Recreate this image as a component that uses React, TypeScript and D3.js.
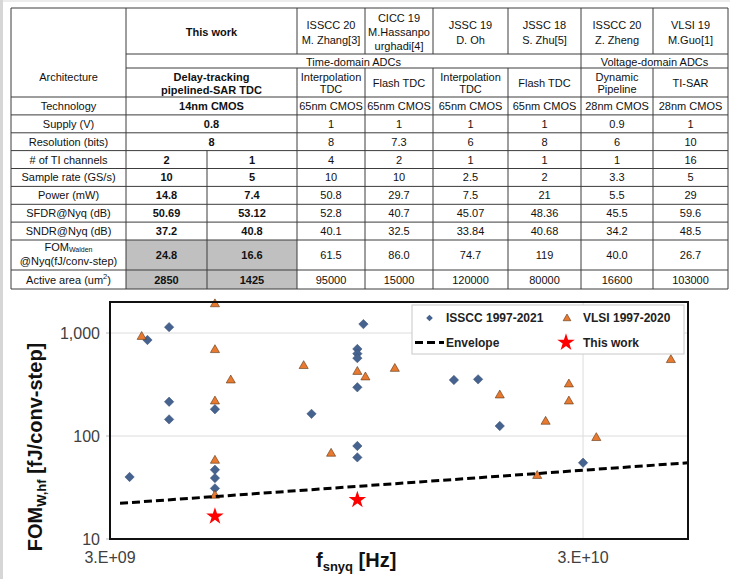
import React from "react";
import * as d3 from "d3";

const W = 730;
const H = 579;
const FONT = "Arial, 'Liberation Sans', sans-serif";

// ---- table data ----
const rowLabels = ["Technology", "Supply (V)", "Resolution (bits)", "# of TI channels", "Sample rate (GS/s)", "Power (mW)", "SFDR@Nyq (dB)", "SNDR@Nyq (dB)"];
const sources = [["ISSCC 20", "M. Zhang[3]"], ["CICC 19", "M.Hassanpo", "urghadi[4]"], ["JSSC 19", "D. Oh"], ["JSSC 18", "S. Zhu[5]"], ["ISSCC 20", "Z. Zheng"], ["VLSI 19", "M.Guo[1]"]];
const architectures = [["Interpolation", "TDC"], ["Flash TDC"], ["Interpolation", "TDC"], ["Flash TDC"], ["Dynamic", "Pipeline"], ["TI-SAR"]];
const technology = ["65nm CMOS", "65nm CMOS", "65nm CMOS", "65nm CMOS", "28nm CMOS", "28nm CMOS"];
const supply = ["1", "1", "1", "1", "0.9", "1"];
const resolution = ["8", "7.3", "6", "8", "6", "10"];
const tiChannels = ["4", "2", "1", "1", "1", "16"];
const sampleRate = ["10", "10", "2.5", "2", "3.3", "5"];
const power = ["50.8", "29.7", "7.5", "21", "5.5", "29"];
const sfdr = ["52.8", "40.7", "45.07", "48.36", "45.5", "59.6"];
const sndr = ["40.1", "32.5", "33.84", "40.68", "34.2", "48.5"];
const fomWalden = ["61.5", "86.0", "74.7", "119", "40.0", "26.7"];
const area = ["95000", "15000", "120000", "80000", "16600", "103000"];

const twArch = ["Delay-tracking", "pipelined-SAR TDC"];
const twMerged = ["14nm CMOS", "0.8", "8"];
const twTi = ["2", "1"];
const twRate = ["10", "5"];
const twPower = ["14.8", "7.4"];
const twSfdr = ["50.69", "53.12"];
const twSndr = ["37.2", "40.8"];
const twFom = ["24.8", "16.6"];
const twArea = ["2850", "1425"];

// ---- chart data ----
const isscFreq = [3.3e9, 3.6e9, 4.0e9, 4.0e9, 4.0e9, 5.0e9, 5.0e9, 5.0e9, 5.0e9, 8.0e9, 1.0e10, 1.0e10, 1.0e10, 1.0e10, 1.0e10, 1.0e10, 1.03e10, 1.6e10, 1.8e10, 2.0e10, 3.0e10];
const isscFom = [40, 855, 1140, 215, 145, 182, 47, 39, 31, 164, 700, 630, 570, 297, 80, 62, 1220, 350, 355, 125, 55];
const vlsiFreq = [3.5e9, 5e9, 5e9, 5e9, 5e9, 5e9, 5.4e9, 7.7e9, 8.8e9, 1.0e10, 1.04e10, 1.2e10, 2.0e10, 2.4e10, 2.5e10, 2.8e10, 2.8e10, 3.2e10, 4.6e10];
const vlsiFom = [940, 1950, 700, 222, 59, 27, 355, 490, 69, 430, 380, 460, 254, 42, 141, 325, 222, 98, 560];
const envFreq = [3.15e9, 5e10];
const envFom = [22.2, 55];
const twFreq = [5e9, 1e10];
const twFomPts = [16.6, 24];
const yTicks = [10, 100, 1000];
const xTicks = [3e9, 3e10];

// table geometry
const colX = [11, 126, 297, 365, 433, 508, 581, 653, 728];
const twSplit = 207;
const rowY = [8, 54, 68, 97, 114.9, 132.8, 150.6, 168.5, 186.4, 204.3, 222.1, 240, 270, 289];
const FS = 11;

const Lines = ({ lines, x, cy, lh, bold = false, size = FS }) => (
  <text x={x} textAnchor="middle" fontSize={size} fontWeight={bold ? "bold" : "normal"} fill="#111">
    {lines.map((l, i) => (
      <tspan key={i} x={x} y={cy + (i - (lines.length - 1) / 2) * lh} dominantBaseline="central">{l}</tspan>
    ))}
  </text>
);

const Table = () => {
  const mid = (a, b) => (a + b) / 2;
  const srcCx = sources.map((_, i) => mid(colX[i + 2], colX[i + 3]));
  const twCx = mid(colX[1], colX[2]);
  const tw1 = mid(colX[1], twSplit);
  const tw2 = mid(twSplit, colX[2]);
  const merged = [technology, supply, resolution];
  const split = [tiChannels, sampleRate, power, sfdr, sndr];
  const splitTw = [twTi, twRate, twPower, twSfdr, twSndr];
  const stroke = "#3c3c3c";
  const hl = (y, x1, x2, k) => <line key={k} x1={x1} x2={x2} y1={y} y2={y} stroke={stroke} strokeWidth={1} />;
  const vl = (x, y1, y2, k) => <line key={k} x1={x} x2={x} y1={y1} y2={y2} stroke={stroke} strokeWidth={1} />;

  return (
    <g fontFamily={FONT}>
      {/* shaded cells */}
      <rect x={colX[1]} y={rowY[11]} width={colX[2] - colX[1]} height={rowY[13] - rowY[11]} fill="#c0c0c0" />
      {/* horizontal lines */}
      {hl(rowY[0], colX[0], colX[8], "h0")}
      {hl(rowY[1], colX[1], colX[8], "h1")}
      {hl(rowY[2], colX[1], colX[8], "h2")}
      {rowY.slice(3).map((y, i) => hl(y, colX[0], colX[8], "hr" + i))}
      {/* vertical lines */}
      {vl(colX[0], rowY[0], rowY[13], "v0")}
      {vl(colX[1], rowY[0], rowY[13], "v1")}
      {vl(colX[2], rowY[0], rowY[1], "v2a")}
      {vl(colX[2], rowY[2], rowY[13], "v2b")}
      {[3, 4, 5].map((c) => [vl(colX[c], rowY[0], rowY[1], "va" + c), vl(colX[c], rowY[2], rowY[13], "vb" + c)])}
      {vl(colX[6], rowY[0], rowY[13], "v6")}
      {vl(colX[7], rowY[0], rowY[1], "v7a")}
      {vl(colX[7], rowY[2], rowY[13], "v7b")}
      {vl(colX[8], rowY[0], rowY[13], "v8")}
      {vl(twSplit, rowY[6], rowY[13], "vs")}

      {/* header */}
      <Lines lines={["This work"]} x={twCx} cy={32} lh={15} bold />
      {sources.map((s, i) => <Lines key={i} lines={s} x={srcCx[i]} cy={32} lh={s.length > 2 ? 14 : 15} />)}
      <Lines lines={["Time-domain ADCs"]} x={mid(colX[1], colX[6])} cy={61.5} lh={13} />
      <Lines lines={["Voltage-domain ADCs"]} x={mid(colX[6], colX[8])} cy={61.5} lh={13} />
      <Lines lines={["Architecture"]} x={mid(colX[0], colX[1])} cy={77} lh={13} />
      <Lines lines={twArch} x={twCx} cy={83} lh={13} bold />
      {architectures.map((a, i) => <Lines key={i} lines={a} x={srcCx[i]} cy={83} lh={12.5} />)}

      {/* merged rows */}
      {merged.map((vals, r) => {
        const cy = mid(rowY[3 + r], rowY[4 + r]);
        return (
          <g key={"m" + r}>
            <Lines lines={[rowLabels[r]]} x={mid(colX[0], colX[1])} cy={cy} lh={13} />
            <Lines lines={[twMerged[r]]} x={twCx} cy={cy} lh={13} bold />
            {vals.map((v, i) => <Lines key={i} lines={[v]} x={srcCx[i]} cy={cy} lh={13} />)}
          </g>
        );
      })}
      {/* split rows */}
      {split.map((vals, r) => {
        const cy = mid(rowY[6 + r], rowY[7 + r]);
        return (
          <g key={"s" + r}>
            <Lines lines={[rowLabels[3 + r]]} x={mid(colX[0], colX[1])} cy={cy} lh={13} />
            <Lines lines={[splitTw[r][0]]} x={tw1} cy={cy} lh={13} bold />
            <Lines lines={[splitTw[r][1]]} x={tw2} cy={cy} lh={13} bold />
            {vals.map((v, i) => <Lines key={i} lines={[v]} x={srcCx[i]} cy={cy} lh={13} />)}
          </g>
        );
      })}
      {/* FOM row */}
      <text x={mid(colX[0], colX[1])} y={247} textAnchor="middle" dominantBaseline="central" fontSize={FS} fill="#111">
        FOM<tspan fontSize={7} dy={2}>Walden</tspan>
      </text>
      <Lines lines={["@Nyq(fJ/conv-step)"]} x={mid(colX[0], colX[1])} cy={261} lh={13} />
      <Lines lines={[twFom[0]]} x={tw1} cy={255} lh={13} bold />
      <Lines lines={[twFom[1]]} x={tw2} cy={255} lh={13} bold />
      {fomWalden.map((v, i) => <Lines key={i} lines={[v]} x={srcCx[i]} cy={255} lh={13} />)}
      {/* area row */}
      <text x={mid(colX[0], colX[1])} y={280} textAnchor="middle" dominantBaseline="central" fontSize={FS} fill="#111">
        Active area (um<tspan fontSize={7.5} dy={-4}>2</tspan><tspan dy={4}>)</tspan>
      </text>
      <Lines lines={[twArea[0]]} x={tw1} cy={280} lh={13} bold />
      <Lines lines={[twArea[1]]} x={tw2} cy={280} lh={13} bold />
      {area.map((v, i) => <Lines key={i} lines={[v]} x={srcCx[i]} cy={280} lh={13} />)}
    </g>
  );
};

const plot = { left: 110, right: 688, top: 302, bottom: 539 };

const Chart = () => {
  const x = d3.scaleLog().domain([3e9, 5e10]).range([plot.left, plot.right]);
  const y = d3.scaleLog().domain([10, 2000]).range([plot.bottom, plot.top]);
  const diamond = d3.symbol(d3.symbolSquare, 44)();
  const diamondSm = d3.symbol(d3.symbolSquare, 22)();
  const tri = d3.symbol(d3.symbolTriangle, 36)();
  const triSm = d3.symbol(d3.symbolTriangle, 26)();
  const star = d3.symbol(d3.symbolStar, 95)();
  const env = d3.line<number>().x((d, i) => x(envFreq[i])).y((d) => y(d))(envFom);
  const blue = "#46628f";
  const orange = "#e8792e";

  return (
    <g fontFamily={FONT}>
      {/* grid */}
      {[100, 1000].map((t) => (
        <line key={t} x1={plot.left} x2={plot.right} y1={y(t)} y2={y(t)} stroke="#dcdcdc" strokeWidth={1} />
      ))}
      <line x1={x(3e10)} x2={x(3e10)} y1={plot.top} y2={plot.bottom} stroke="#dcdcdc" strokeWidth={1} />
      {yTicks.map((t) => (
        <line key={"tk" + t} x1={plot.left - 4} x2={plot.left} y1={y(t)} y2={y(t)} stroke="#bbb" />
      ))}

      {/* ISSCC */}
      {isscFreq.map((f, i) => (
        <path key={"d" + i} d={diamond} transform={`translate(${x(f)},${y(isscFom[i])}) rotate(45)`} fill={blue} stroke="#3a5275" strokeWidth={0.5} />
      ))}
      {/* VLSI */}
      {vlsiFreq.map((f, i) => (
        <path key={"t" + i} d={tri} transform={`translate(${x(f)},${y(vlsiFom[i]) + 1})`} fill={orange} stroke="#5a3518" strokeWidth={0.6} />
      ))}
      {/* envelope */}
      <path d={env} fill="none" stroke="#000" strokeWidth={3} strokeDasharray="8,4" />
      {/* this work */}
      {twFreq.map((f, i) => (
        <path key={"s" + i} d={star} transform={`translate(${x(f)},${y(twFomPts[i])})`} fill="#ff0000" />
      ))}

      <rect x={plot.left} y={plot.top} width={plot.right - plot.left} height={plot.bottom - plot.top} fill="none" stroke="#111" strokeWidth={2} />

      {/* tick labels */}
      {yTicks.map((t) => (
        <text key={"yl" + t} x={plot.left - 10} y={y(t)} textAnchor="end" dominantBaseline="central" fontSize={16} fill="#404040">
          {d3.format(",")(t)}
        </text>
      ))}
      {xTicks.map((t) => (
        <text key={"xl" + t} x={x(t)} y={563} textAnchor="middle" fontSize={16} fill="#404040">
          {t === 3e9 ? "3.E+09" : "3.E+10"}
        </text>
      ))}

      {/* axis titles */}
      <text transform="translate(41.5,447) rotate(-90)" textAnchor="middle" fontSize={20} fontWeight="bold" fill="#111">
        FOM<tspan fontSize={13} dy={4}>W,hf</tspan><tspan dy={-4}> [fJ/conv-step]</tspan>
      </text>
      <text x={316} y={567} fontSize={20} fontWeight="bold" fill="#111">
        f<tspan fontSize={13} dy={4}>snyq</tspan><tspan dy={-4}> [Hz]</tspan>
      </text>

      {/* legend */}
      <rect x={412} y={305} width={272} height={49} fill="#fff" stroke="#c8c8c8" />
      <path d={diamondSm} transform="translate(429.5,318) rotate(45)" fill={blue} />
      <text x={446} y={322} fontSize={12} fontWeight="bold" fill="#222">ISSCC 1997-2021</text>
      <path d={triSm} transform="translate(567,318.5)" fill={orange} stroke="#5a3518" strokeWidth={0.6} />
      <text x={583} y={322} fontSize={12} fontWeight="bold" fill="#222">VLSI 1997-2020</text>
      <line x1={415} x2={444} y1={342.5} y2={342.5} stroke="#000" strokeWidth={3} strokeDasharray="8,4" />
      <text x={446} y={346.5} fontSize={12} fontWeight="bold" fill="#222">Envelope</text>
      <path d={star} transform="translate(566,342.5)" fill="#ff0000" />
      <text x={583} y={346.5} fontSize={12} fontWeight="bold" fill="#222">This work</text>
    </g>
  );
};

export default function App() {
  return (
    <svg width={W} height={H} style={{ position: "absolute", left: 0, top: 0, background: "#fff" }}>
      <rect x={0} y={0} width={W} height={2} fill="#ececec" />
      <rect x={0} y={0} width={3} height={H} fill="#d6d6d6" />
      <Table />
      <Chart />
    </svg>
  );
}
